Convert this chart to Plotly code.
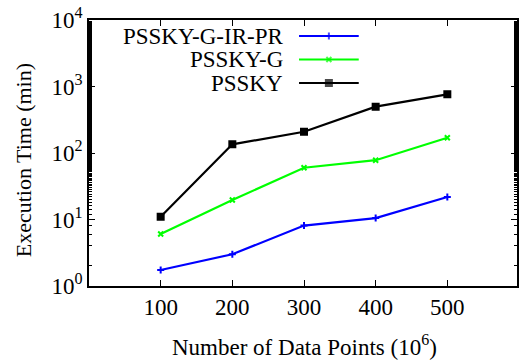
import plotly.graph_objects as go

points = [100, 200, 300, 400, 500]
pssky_g_ir_pr = [1.74, 3.0, 8.1, 10.5, 21.8]
pssky_g = [6.05, 19.6, 60, 78, 170]
pssky = [11, 135, 209, 497, 763]

series_names = ["PSSKY-G-IR-PR", "PSSKY-G", "PSSKY"]
series_values = [pssky_g_ir_pr, pssky_g, pssky]
colors = ["#0000ff", "#00ff00", "#000000"]
symbols = ["cross-thin", "x-thin", "square"]
marker_sizes = [5, 5, 6]

ytick_vals = [1, 10, 100, 1000, 10000]
ytick_text = ["10<sup>0</sup>", "10<sup>1</sup>", "10<sup>2</sup>", "10<sup>3</sup>", "10<sup>4</sup>"]
xtick_vals = [100, 200, 300, 400, 500]

FONT = "Liberation Serif, Times New Roman, serif"
W, H = 519, 364
L, T, B = 89, 20, 78
PW, PH = W - L, H - T - B


def px(x):
    return (x - L) / PW


def py(y):
    return (H - B - y) / PH


fig = go.Figure()
for name, vals, c, s, ms in zip(series_names, series_values, colors, symbols, marker_sizes):
    fig.add_trace(go.Scatter(
        x=points, y=vals, mode="lines+markers", name=name,
        line=dict(color=c, width=2.2),
        marker=dict(symbol=s, size=ms, color=c, line=dict(color=c, width=2)),
        showlegend=False,
    ))

# legend drawn in pixel coordinates on a hidden overlay axis
leg_y = [36, 59.5, 83]
for name, c, s, ms, yy in zip(series_names, colors, symbols, marker_sizes, leg_y):
    fig.add_trace(go.Scatter(
        x=[300, 330, 360], y=[yy, yy, yy], xaxis="x2", yaxis="y2",
        mode="lines+markers", line=dict(color=c, width=2.2),
        marker=dict(symbol=s, size=[0, ms, 0], color=c,
                    line=dict(color=c, width=2)),
        showlegend=False, hoverinfo="skip",
    ))
    fig.add_annotation(x=286, y=yy, xref="x2", yref="y2", text=name,
                       showarrow=False, xanchor="right", yanchor="middle",
                       font=dict(family=FONT, size=23, color="black"))

# axis titles
fig.add_annotation(x=px(306), y=py(346), xref="paper", yref="paper",
                   text="Number of Data Points (10<sup>6</sup>)", showarrow=False,
                   xanchor="center", yanchor="middle",
                   font=dict(family=FONT, size=23, color="black"))
fig.add_annotation(x=px(23), y=py(160), xref="paper", yref="paper",
                   text="Execution Time (min)", showarrow=False, textangle=-90,
                   xanchor="center", yanchor="middle",
                   font=dict(family=FONT, size=22, color="black"))

fig.update_layout(
    width=W, height=H,
    margin=dict(l=L, r=0, t=T, b=B),
    paper_bgcolor="white", plot_bgcolor="white",
    font=dict(family=FONT, color="black"),
    xaxis=dict(
        range=[0, PW / 0.72], tickvals=xtick_vals,
        ticks="inside", ticklen=6, tickcolor="black",
        showline=True, linecolor="black", linewidth=1.5, mirror="allticks",
        showgrid=False, zeroline=False,
        tickfont=dict(family=FONT, size=23),
    ),
    yaxis=dict(
        type="log", range=[0, 4], tickvals=ytick_vals, ticktext=ytick_text,
        ticks="inside", ticklen=6, tickcolor="black",
        showline=True, linecolor="black", linewidth=1.5, mirror="ticks",
        showgrid=False, zeroline=False,
        minor=dict(ticks="inside", ticklen=3, tickcolor="black", showgrid=False),
        tickfont=dict(family=FONT, size=23),
    ),
    xaxis2=dict(overlaying="x", range=[L, W], visible=False),
    yaxis2=dict(overlaying="y", range=[H - B, T], visible=False),
)

fig.write_html("out.html")
